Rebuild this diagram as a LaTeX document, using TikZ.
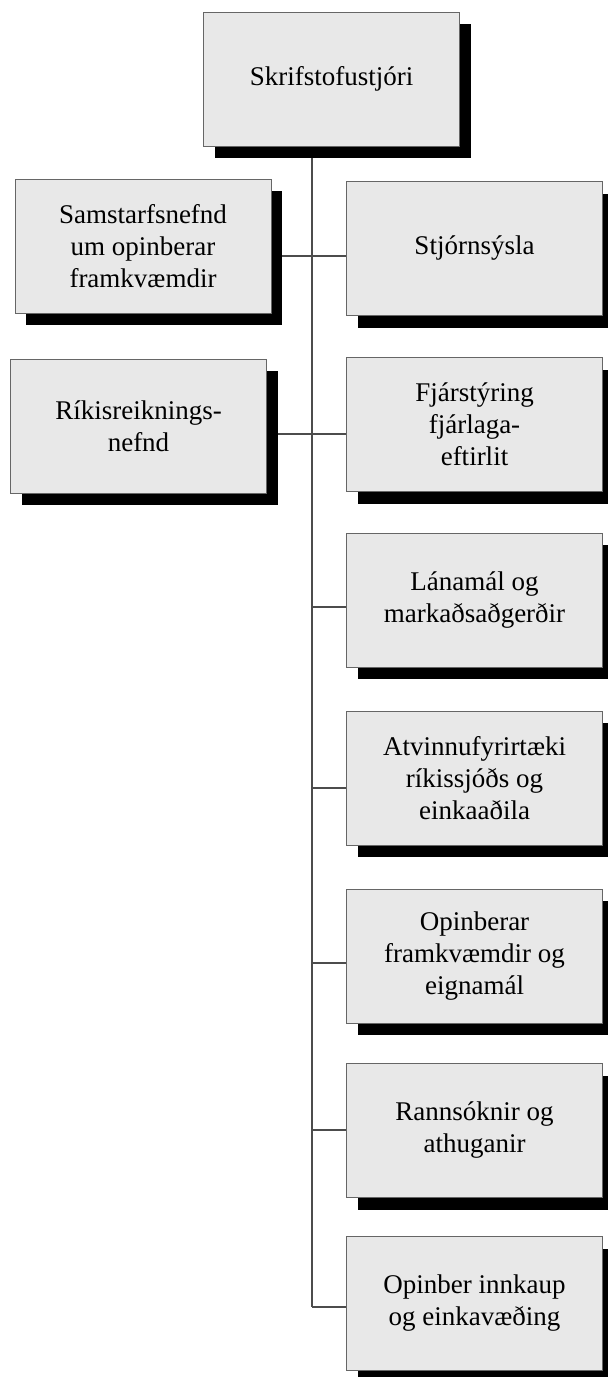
\documentclass[tikz,border=0pt]{standalone}
\usepackage{fontspec}
\setmainfont{Liberation Serif}
\usetikzlibrary{shadows}
\begin{document}
\begin{tikzpicture}[x=1pt,y=-1pt,
  orgbox/.style={draw=gray!80!black, line width=0.9pt, fill=gray!18,
    minimum width=256pt, minimum height=134pt, inner sep=0pt, align=center,
    font=\fontsize{27}{32}\selectfont,
    drop shadow={shadow xshift=11pt, shadow yshift=-12pt, fill=black, opacity=1}},
  conn/.style={draw=gray!60!black, line width=1.2pt}]
\useasboundingbox (0,0) rectangle (608,1377);
\clip (0,0) rectangle (608,1377);
\node[orgbox] (top) at (331.5,79) {Skrifstofustjóri};
\node[orgbox] (sam) at (143,246) {Samstarfsnefnd\\um opinberar\\framkvæmdir};
\node[orgbox] (stj) at (474.5,248.5) {Stjórnsýsla};
\node[orgbox] (rik) at (138.5,426) {Ríkisreiknings-\\nefnd};
\node[orgbox] (fja) at (474.5,424.5) {Fjárstýring\\fjárlaga-\\eftirlit};
\node[orgbox] (lan) at (474.5,600) {Lánamál og\\markaðsaðgerðir};
\node[orgbox] (atv) at (474.5,778) {Atvinnufyrirtæki\\ríkissjóðs og\\einkaaðila};
\node[orgbox] (opf) at (474.5,956) {Opinberar\\framkvæmdir og\\eignamál};
\node[orgbox] (ran) at (474.5,1130.5) {Rannsóknir og\\athuganir};
\node[orgbox] (inn) at (474.5,1303.5) {Opinber innkaup\\og einkavæðing};
\coordinate (vtop) at (312,158);
\coordinate (j1) at (312,256);
\coordinate (j2) at (312,434);
\coordinate (j3) at (312,607);
\coordinate (j4) at (312,788);
\coordinate (j5) at (312,963);
\coordinate (j6) at (312,1130);
\coordinate (j7) at (312,1307);
\draw[conn] (vtop) -- (j7);
\draw[conn] ([xshift=11pt]j1 -| sam.east) -- (j1) -- (j1 -| stj.west);
\draw[conn] ([xshift=11pt]j2 -| rik.east) -- (j2) -- (j2 -| fja.west);
\draw[conn] (j3) -- (j3 -| lan.west);
\draw[conn] (j4) -- (j4 -| atv.west);
\draw[conn] (j5) -- (j5 -| opf.west);
\draw[conn] (j6) -- (j6 -| ran.west);
\draw[conn] (j7) -- (j7 -| inn.west);
\end{tikzpicture}
\end{document}
